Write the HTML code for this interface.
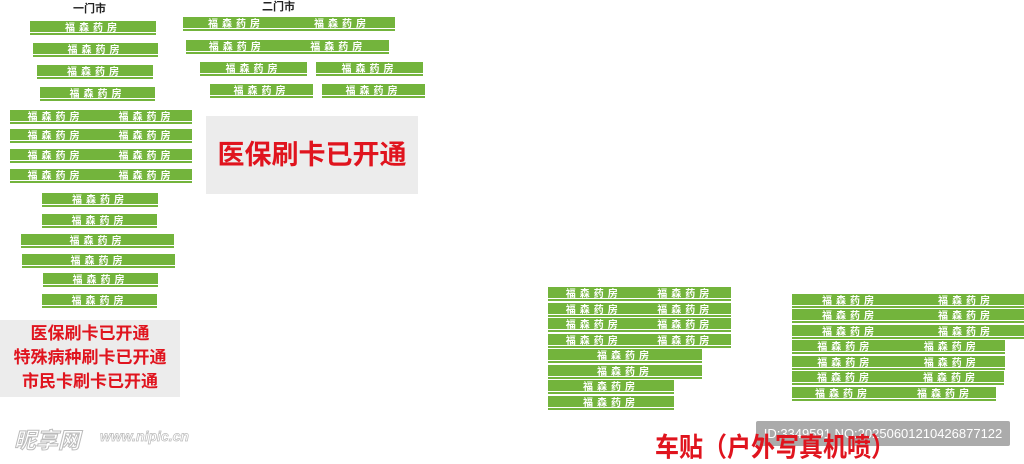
<!DOCTYPE html>
<html><head><meta charset="utf-8"><style>
html,body{margin:0;padding:0;background:#fff;}
body{width:1024px;height:461px;position:relative;overflow:hidden;font-family:"Liberation Sans","Noto Sans CJK SC",sans-serif;}
.b{position:absolute;height:11px;background:#73b43c;border-bottom:1px solid #fff;box-shadow:0 2px 0 #73b43c;color:#fff;font-family:"Noto Sans CJK SC",sans-serif;font-weight:bold;font-size:10px;line-height:11px;display:flex;justify-content:space-around;align-items:center;white-space:nowrap;}
.b span{letter-spacing:4px;}
.t{position:absolute;font-size:11px;color:#222;font-weight:bold;}
.g{position:absolute;background:#ececec;color:#e0141e;font-weight:bold;text-align:center;}
</style></head><body>
<div class="t" style="left:73px;top:0px;">一门市</div>
<div class="t" style="left:262px;top:-2px;">二门市</div>

<div class="b" style="left:30px;top:21px;width:126px"><span>福森药房</span></div>
<div class="b" style="left:33px;top:43px;width:125px"><span>福森药房</span></div>
<div class="b" style="left:37px;top:65px;width:116px"><span>福森药房</span></div>
<div class="b" style="left:40px;top:87px;width:115px"><span>福森药房</span></div>
<div class="b" style="left:10px;top:110px;width:182px"><span>福森药房</span><span>福森药房</span></div>
<div class="b" style="left:10px;top:129px;width:182px"><span>福森药房</span><span>福森药房</span></div>
<div class="b" style="left:10px;top:149px;width:182px"><span>福森药房</span><span>福森药房</span></div>
<div class="b" style="left:10px;top:169px;width:182px"><span>福森药房</span><span>福森药房</span></div>
<div class="b" style="left:42px;top:193px;width:116px"><span>福森药房</span></div>
<div class="b" style="left:42px;top:214px;width:115px"><span>福森药房</span></div>
<div class="b" style="left:21px;top:234px;width:153px"><span>福森药房</span></div>
<div class="b" style="left:22px;top:254px;width:153px"><span>福森药房</span></div>
<div class="b" style="left:43px;top:273px;width:115px"><span>福森药房</span></div>
<div class="b" style="left:42px;top:294px;width:115px"><span>福森药房</span></div>

<div class="b" style="left:183px;top:17px;width:212px"><span>福森药房</span><span>福森药房</span></div>
<div class="b" style="left:186px;top:40px;width:203px"><span>福森药房</span><span>福森药房</span></div>
<div class="b" style="left:200px;top:62px;width:107px"><span>福森药房</span></div>
<div class="b" style="left:316px;top:62px;width:107px"><span>福森药房</span></div>
<div class="b" style="left:210px;top:84px;width:103px"><span>福森药房</span></div>
<div class="b" style="left:322px;top:84px;width:103px"><span>福森药房</span></div>

<div class="g" style="left:206px;top:116px;width:212px;height:78px;font-size:27px;line-height:78px;">医保刷卡已开通</div>
<div class="g" style="left:0;top:320px;width:180px;height:77px;font-size:17px;line-height:24px;padding-top:2px;box-sizing:border-box;">医保刷卡已开通<br>特殊病种刷卡已开通<br>市民卡刷卡已开通</div>

<div class="b" style="left:548px;top:287px;width:183px"><span>福森药房</span><span>福森药房</span></div>
<div class="b" style="left:548px;top:303px;width:183px"><span>福森药房</span><span>福森药房</span></div>
<div class="b" style="left:548px;top:318px;width:183px"><span>福森药房</span><span>福森药房</span></div>
<div class="b" style="left:548px;top:334px;width:183px"><span>福森药房</span><span>福森药房</span></div>
<div class="b" style="left:548px;top:349px;width:154px"><span>福森药房</span></div>
<div class="b" style="left:548px;top:365px;width:154px"><span>福森药房</span></div>
<div class="b" style="left:548px;top:380px;width:126px"><span>福森药房</span></div>
<div class="b" style="left:548px;top:396px;width:126px"><span>福森药房</span></div>

<div class="b" style="left:792px;top:294px;width:232px"><span>福森药房</span><span>福森药房</span></div>
<div class="b" style="left:792px;top:309px;width:232px"><span>福森药房</span><span>福森药房</span></div>
<div class="b" style="left:792px;top:325px;width:232px"><span>福森药房</span><span>福森药房</span></div>
<div class="b" style="left:792px;top:340px;width:213px"><span>福森药房</span><span>福森药房</span></div>
<div class="b" style="left:792px;top:356px;width:213px"><span>福森药房</span><span>福森药房</span></div>
<div class="b" style="left:792px;top:371px;width:212px"><span>福森药房</span><span>福森药房</span></div>
<div class="b" style="left:792px;top:387px;width:204px"><span>福森药房</span><span>福森药房</span></div>

<div style="position:absolute;left:756px;top:421px;width:254px;height:25px;background:rgba(150,150,150,0.8);border-radius:2px;color:#fff;font-size:13px;line-height:25px;text-align:center;white-space:nowrap;">ID:3349591 NO:20250601210426877122</div>
<div style="position:absolute;left:655px;top:433px;font-size:24px;line-height:28px;font-weight:bold;color:#e0141e;white-space:nowrap;transform:scaleY(1.12);transform-origin:0 0;">车贴（户外写真机喷）</div>

<div style="position:absolute;left:14px;top:423px;font-size:22px;font-style:italic;font-weight:bold;color:#fff;-webkit-text-stroke:1px #bbb;">昵享网</div>
<div style="position:absolute;left:100px;top:428px;font-size:14px;font-style:italic;font-weight:bold;color:#fff;-webkit-text-stroke:0.7px #bbb;">www.nipic.cn</div>
</body></html>
